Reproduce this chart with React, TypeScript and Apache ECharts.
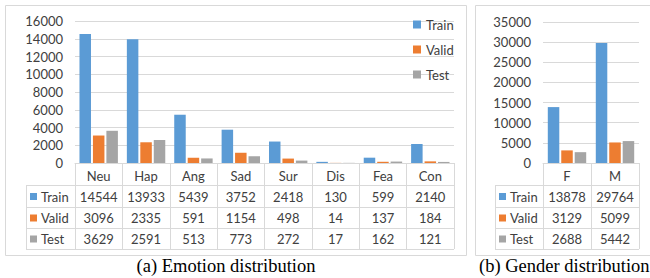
import React, { useEffect, useRef } from "react";
import * as echarts from "echarts";

const seriesNames = ["Train", "Valid", "Test"];
const seriesColors = ["#5B9BD5", "#ED7D31", "#A5A5A5"];

const emotions = ["Neu", "Hap", "Ang", "Sad", "Sur", "Dis", "Fea", "Con"];
const emoTrain = [14544, 13933, 5439, 3752, 2418, 130, 599, 2140];
const emoValid = [3096, 2335, 591, 1154, 498, 14, 137, 184];
const emoTest = [3629, 2591, 513, 773, 272, 17, 162, 121];

const genders = ["F", "M"];
const genTrain = [13878, 29764];
const genValid = [3129, 5099];
const genTest = [2688, 5442];

const emoMax = 16000;
const emoInterval = 2000;
const genMax = 35000;
const genInterval = 5000;

const captionA = "(a) Emotion distribution";
const captionB = "(b) Gender distribution";

const FONT = "Lato, 'Open Sans', sans-serif";
const TXT = "#404040";
const LINE = "#D9D9D9";

export default function App() {
  const ref = useRef<HTMLDivElement>(null);
  useEffect(() => {
    if (!ref.current) return;
    const chart = echarts.init(ref.current, undefined, { renderer: "svg" });
    const emoData = [emoTrain, emoValid, emoTest];
    const genData = [genTrain, genValid, genTest];
    const barW = 11.5;
    const catAxis = (cats: string[], grid: number) => ({
      type: "category",
      gridIndex: grid,
      data: cats,
      axisLine: { show: true, lineStyle: { color: LINE, width: 1 } },
      axisTick: { show: true, length: 86, lineStyle: { color: LINE, width: 1 } },
      axisLabel: { color: TXT, fontSize: 13, fontFamily: FONT, margin: 6 },
    });
    const valAxis = (grid: number, max: number, interval: number) => ({
      type: "value",
      gridIndex: grid,
      min: 0,
      max,
      interval,
      axisLine: { show: false },
      axisTick: { show: false },
      splitLine: { lineStyle: { color: LINE, width: 1 } },
      axisLabel: {
        color: TXT,
        fontSize: 13,
        fontFamily: FONT,
        margin: 12,
        formatter: (v: number) => String(v),
      },
    });
    const series: any[] = [];
    seriesNames.forEach((n, k) => {
      series.push({
        type: "bar",
        name: n,
        xAxisIndex: 0,
        yAxisIndex: 0,
        data: emoData[k],
        barWidth: barW,
        barGap: "17%",
        itemStyle: { color: seriesColors[k] },
      });
    });
    seriesNames.forEach((n, k) => {
      series.push({
        type: "bar",
        name: n,
        xAxisIndex: 1,
        yAxisIndex: 1,
        data: genData[k],
        barWidth: barW,
        barGap: "17%",
        itemStyle: { color: seriesColors[k] },
      });
    });
    chart.setOption({
      animation: false,
      backgroundColor: "#ffffff",
      grid: [
        { left: 75, top: 21, width: 379, height: 142 },
        { left: 543, top: 22, width: 96, height: 141 },
      ],
      xAxis: [catAxis(emotions, 0), catAxis(genders, 1)],
      yAxis: [valAxis(0, emoMax, emoInterval), valAxis(1, genMax, genInterval)],
      legend: {
        data: seriesNames,
        orient: "vertical",
        left: 413,
        top: 18,
        padding: 0,
        itemWidth: 8,
        itemHeight: 8,
        itemGap: 12,
        icon: "rect",
        textStyle: { color: TXT, fontSize: 13, fontFamily: FONT },
      },
      series,
    });

    const rowLines = [185, 207, 228, 249];
    const graphic: any[] = [];
    graphic.push({
      type: "rect",
      shape: { x: 5.5, y: 5.5, width: 461, height: 250 },
      style: { fill: "none", stroke: LINE, lineWidth: 1 },
      silent: true,
    });
    graphic.push({
      type: "rect",
      shape: { x: 475.5, y: 5.5, width: 200, height: 250 },
      style: { fill: "none", stroke: LINE, lineWidth: 1 },
      silent: true,
    });
    const buildTable = (
      axisIdx: number,
      cats: string[],
      data: number[][],
      labelLeft: number
    ) => {
      const n = cats.length;
      const x0 = chart.convertToPixel({ xAxisIndex: axisIdx }, 0) as number;
      const x1 = chart.convertToPixel({ xAxisIndex: axisIdx }, n - 1) as number;
      const step = n > 1 ? (x1 - x0) / (n - 1) : 40;
      const right = x1 + step / 2;
      rowLines.forEach((y) => {
        graphic.push({
          type: "line",
          shape: { x1: labelLeft, y1: y + 0.5, x2: right, y2: y + 0.5 },
          style: { stroke: LINE, lineWidth: 1 },
          silent: true,
        });
      });
      graphic.push({
        type: "line",
        shape: { x1: labelLeft + 0.5, y1: rowLines[0], x2: labelLeft + 0.5, y2: rowLines[3] + 0.5 },
        style: { stroke: LINE, lineWidth: 1 },
        silent: true,
      });
      data.forEach((row, k) => {
        const yc = (rowLines[k] + rowLines[k + 1]) / 2 + 0.5;
        graphic.push({
          type: "rect",
          shape: { x: labelLeft + 4, y: yc - 3.5, width: 7, height: 7 },
          style: { fill: seriesColors[k] },
          silent: true,
        });
        graphic.push({
          type: "text",
          x: labelLeft + 15,
          y: yc,
          style: {
            text: seriesNames[k],
            fill: TXT,
            font: `13px ${FONT}`,
            textAlign: "left",
            textVerticalAlign: "middle",
          },
          silent: true,
        });
        row.forEach((v, i) => {
          const xc = chart.convertToPixel({ xAxisIndex: axisIdx }, i) as number;
          graphic.push({
            type: "text",
            x: xc,
            y: yc,
            style: {
              text: String(v),
              fill: TXT,
              font: `13px ${FONT}`,
              textAlign: "center",
              textVerticalAlign: "middle",
            },
            silent: true,
          });
        });
      });
    };
    buildTable(0, emotions, emoData, 26);
    buildTable(1, genders, genData, 495);
    graphic.push({
      type: "text",
      x: 226,
      y: 266,
      style: {
        text: captionA,
        fill: "#000",
        font: "18.5px 'Liberation Serif', 'Times New Roman', serif",
        textAlign: "center",
        textVerticalAlign: "middle",
      },
      silent: true,
    });
    graphic.push({
      type: "text",
      x: 479,
      y: 266,
      style: {
        text: captionB,
        fill: "#000",
        font: "18.5px 'Liberation Serif', 'Times New Roman', serif",
        textAlign: "left",
        textVerticalAlign: "middle",
      },
      silent: true,
    });
    chart.setOption({ graphic });
    return () => chart.dispose();
  }, []);
  return (
    <div
      ref={ref}
      style={{ position: "fixed", left: 0, top: 0, width: 650, height: 278, background: "#fff" }}
    />
  );
}
